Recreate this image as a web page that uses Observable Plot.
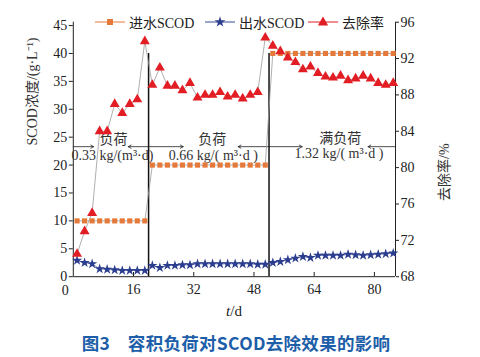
<!DOCTYPE html>
<html><head><meta charset="utf-8">
<script src="https://cdn.jsdelivr.net/npm/d3@7"></script>
<script src="https://cdn.jsdelivr.net/npm/@observablehq/plot@0.6"></script>
<style>
html,body{margin:0;padding:0;background:#fff;}
#wrap{position:relative;width:480px;height:357px;font-family:"Liberation Serif","Noto Sans CJK SC",serif;color:#222;}
#chart{position:absolute;left:0;top:0;}
.abs{position:absolute;white-space:nowrap;}
#legend{top:12px;left:0;width:480px;height:20px;font-size:14px;}
.li{position:absolute;top:0;display:flex;align-items:center;height:20px;}
#xlabel{top:303px;left:0;width:468px;text-align:center;font-size:15px;}
#title{top:330px;left:0;width:472px;text-align:center;font-family:"Noto Sans CJK SC",sans-serif;font-weight:bold;font-size:17.5px;letter-spacing:0.3px;color:#1d5ea8;}
</style></head>
<body><div id="wrap"><div id="chart"></div>
<div id="legend" class="abs"></div>
<div id="xlabel" class="abs"><i>t</i>/d</div>
<div id="title" class="abs">图3　容积负荷对SCOD去除效果的影响</div>
</div>
<script>
// ---- data ----
const days = [1,3,5,7,9,11,13,15,17,19,
  21,23,25,27,29,31,33,35,37,39,41,43,45,47,49,51,
  53,55,57,59,61,63,65,67,69,71,73,75,77,79,81,83,85];
const influent = [10,10,10,10,10,10,10,10,10,10,
  20,20,20,20,20,20,20,20,20,20,20,20,20,20,20,20,
  40,40,40,40,40,40,40,40,40,40,40,40,40,40,40,40,40];
const effluent = [2.9,2.5,2.3,1.4,1.3,1.2,1.1,1.1,1.1,1.1,
  2.0,1.6,2.0,2.0,2.1,2.1,2.3,2.3,2.3,2.3,2.3,2.3,2.3,2.3,2.2,2.2,
  2.5,2.7,3.0,3.3,3.6,3.4,3.8,3.8,3.8,3.8,4.0,3.9,3.8,3.9,4.0,4.1,4.2];
const removal = [70.5,73.0,75.0,84.0,84.0,87.0,86.0,87.0,87.5,93.9,
  89.1,91.0,89.0,89.0,88.5,89.3,87.7,88.0,88.0,88.3,87.8,88.0,87.6,88.0,88.3,94.3,
  93.4,92.8,92.1,91.6,90.8,91.1,90.4,90.0,89.9,90.1,89.6,89.8,90.1,89.8,89.3,89.1,89.3];
const seriesNames = ["进水SCOD","出水SCOD","去除率"];
const leftTicks = [0,5,10,15,20,25,30,35,40,45];
const rightTicks = [68,72,76,80,84,88,92,96];
const xTicks = [16,32,48,64,80];
const xZero = [0];
const phaseBreaks = [20,52];
const phaseTop = 40;
const arrowY = 23.3;
const arrowSegs = [[0,5.4],[20,14.6],[20,29.2],[52,43.8],[52,60.8],[85.6,78.3]];
const annTop = [[10.7,24.5,"负荷"],[36.9,24.5,"负荷"],[70.9,24.8,"满负荷"]];
const annBottom = [[10.4,21.7,"0.33 kg/(m³·d)"],[37.2,21.7,"0.66 kg/( m³·d )"],[70.6,22.1,"1.32 kg/( m³·d )"]];
const xMax = 85.6, leftMax = 45.6, rMin = 68, rMax = 96;
const colors = {inf:"#e5793a", eff:"#2b3d8e", rem:"#e21d24", line:"#9a9a9a"};

// ---- build ----
const toLeft = v => (v - rMin) / (rMax - rMin) * leftMax;
const rows = days.map((d,i)=>({day:d, inf:influent[i], eff:effluent[i], rem:toLeft(removal[i])}));
const arrows = arrowSegs.map(([a,b])=>({x1:a,x2:b,y:arrowY}));
const annTopRows = annTop.map(([x,y,t])=>({x,y,t}));
const annBotRows = annBottom.map(([x,y,t])=>({x,y,t}));

const chart = Plot.plot({
  width:480, height:300,
  marginLeft:72.8, marginRight:85, marginTop:21.7, marginBottom:23.8,
  x:{domain:[0,xMax]},
  y:{domain:[0,leftMax]},
  style:{fontFamily:"Liberation Serif, Noto Sans CJK SC, serif", fontSize:"14px", color:"#222", background:"transparent"},
  marks:[
    Plot.ruleX([0, xMax], {y1:0, y2:leftMax, stroke:"#222", strokeWidth:1}),
    Plot.ruleY([0], {stroke:"#222", strokeWidth:1}),
    Plot.axisY(leftTicks, {anchor:"left", tickSize:4, tickPadding:2, label:null, stroke:"#222"}),
    Plot.axisY(rightTicks.map(toLeft), {anchor:"right", tickSize:3, tickPadding:2, label:null,
      tickFormat: d => String(Math.round(rMin + d/leftMax*(rMax-rMin)))}),
    Plot.axisX(xTicks, {anchor:"bottom", tickSize:0, tickPadding:7, label:null}),
    Plot.axisX(xZero, {anchor:"bottom", tickSize:0, tickPadding:8, dx:-8, label:null}),
    Plot.ruleX(xTicks, {y1:0, y2:0.75, stroke:"#222"}),
    Plot.ruleX(phaseBreaks, {y1:0, y2:phaseTop, stroke:"#111", strokeWidth:1.5}),
    Plot.arrow(arrows, {x1:"x1", x2:"x2", y1:"y", y2:"y", stroke:"#222", strokeWidth:0.8, headLength:6}),
    Plot.text(annTopRows, {x:"x", y:"y", text:"t", fontSize:14, fill:"#333"}),
    Plot.text(annBotRows, {x:"x", y:"y", text:"t", fontSize:14, fill:"#333"}),
    Plot.line(rows, {x:"day", y:"inf", stroke:colors.line, strokeWidth:0.8}),
    Plot.line(rows, {x:"day", y:"eff", stroke:"#5d6aa8", strokeWidth:0.8}),
    Plot.line(rows, {x:"day", y:"rem", stroke:colors.line, strokeWidth:0.8}),
    Plot.dot(rows, {x:"day", y:"inf", symbol:"square", r:2.9, fill:colors.inf, stroke:"none"}),
    Plot.dot(rows, {x:"day", y:"eff", symbol:"star", r:3.2, fill:colors.eff, stroke:"none"}),
    Plot.dot(rows, {x:"day", y:"rem", symbol:"triangle", r:3.7, fill:colors.rem, stroke:"none"}),
    Plot.text(["SCOD浓度/(g·L⁻¹)"], {frameAnchor:"left", dx:-41, dy:-4, rotate:-90, fontSize:14, fill:"#333"}),
    Plot.text(["去除率/%"], {frameAnchor:"right", dx:49, dy:-6, rotate:-90, fontSize:14, fill:"#333"})
  ]
});
document.getElementById("chart").appendChild(chart);

// legend
const lg = document.getElementById("legend");
const legendSym = [
  `<rect x="12" y="7" width="6" height="6" fill="${colors.inf}"/>`,
  `<path d="${d3.symbol(d3.symbolStar, 36)()}" transform="translate(15,10)" fill="${colors.eff}"/>`,
  `<path d="${d3.symbol(d3.symbolTriangle, 45)()}" transform="translate(15,10.5)" fill="${colors.rem}"/>`
];
const legendLine = [colors.inf, "#3a4b96", colors.rem];
const legendX = [95, 205, 308];
seriesNames.forEach((n,i)=>{
  const el = document.createElement("div");
  el.className = "li";
  el.style.left = legendX[i] + "px";
  el.innerHTML = `<svg width="31" height="20"><line x1="0" x2="30" y1="10" y2="10" stroke="${legendLine[i]}" stroke-width="1"/>${legendSym[i]}</svg><span style="margin-left:3px">${n}</span>`;
  lg.appendChild(el);
});
</script></body></html>
